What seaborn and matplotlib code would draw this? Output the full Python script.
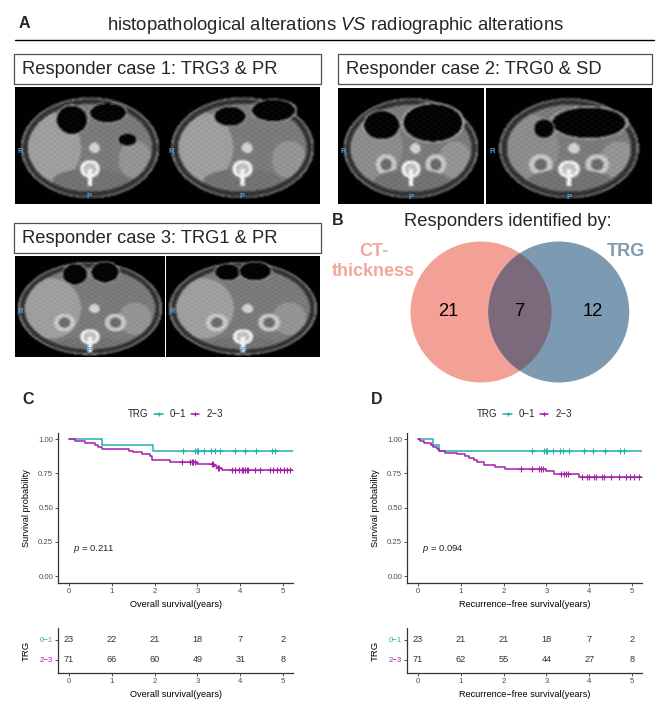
import numpy as np
import pandas as pd
import matplotlib
matplotlib.use("Agg")
import matplotlib.pyplot as plt
import seaborn as sns
from matplotlib.patches import Rectangle, Circle

# ---------------- data ----------------
title_main = "histopathological alterations $\\it{VS}$ radiographic alterations"
case_titles = ["Responder case 1: TRG3 & PR", "Responder case 2: TRG0 & SD",
               "Responder case 3: TRG1 & PR"]

venn_title = "Responders identified by:"
venn_sets = ["CT-", "thickness", "TRG"]
venn_counts = [21, 7, 12]          # CT only, both, TRG only

groups = ["0\u22121", "2\u22123"]
risk_years = [0, 1, 2, 3, 4, 5]

# Overall survival (panel C)
os_t_01 = [0, 0.76, 1.97, 5.23]
os_s_01 = [1.0, 0.957, 0.913, 0.913]
os_c_01 = [2.66, 2.94, 2.98, 3.02, 3.15, 3.31, 3.41, 3.53, 3.88, 4.10, 4.36, 4.74, 4.81]
os_t_23 = [0, 0.14, 0.37, 0.61, 0.68, 0.78, 1.39, 1.50, 1.70, 1.89, 1.93, 2.36, 2.98,
           3.38, 3.45, 3.57, 5.23]
os_s_23 = [1.0, 0.986, 0.972, 0.958, 0.944, 0.930, 0.916, 0.902, 0.888, 0.874, 0.845,
           0.831, 0.816, 0.803, 0.790, 0.776, 0.776]
os_c_23 = [2.63, 2.83, 2.87, 2.90, 2.94, 3.33, 3.37, 3.47, 3.51, 3.80, 3.88, 3.96, 4.03,
           4.07, 4.11, 4.15, 4.19, 4.35, 4.46, 4.70, 4.77, 4.85, 4.93, 5.01, 5.09, 5.16]
os_risk_01 = [23, 22, 21, 18, 7, 2]
os_risk_23 = [71, 66, 60, 49, 31, 8]
os_p = "0.211"

# Recurrence-free survival (panel D)
rfs_t_01 = [0, 0.34, 0.48, 5.23]
rfs_s_01 = [1.0, 0.957, 0.913, 0.913]
rfs_c_01 = [2.66, 2.94, 2.98, 3.02, 3.16, 3.32, 3.38, 3.53, 3.87, 4.09, 4.36, 4.72, 4.81]
rfs_t_23 = [0, 0.05, 0.15, 0.31, 0.35, 0.44, 0.49, 0.64, 0.91, 1.10, 1.18, 1.30, 1.37,
            1.53, 1.80, 2.04, 2.98, 3.17, 3.75, 5.23]
rfs_s_23 = [1.0, 0.986, 0.974, 0.957, 0.944, 0.926, 0.913, 0.900, 0.889, 0.875, 0.864,
            0.847, 0.832, 0.813, 0.798, 0.781, 0.763, 0.745, 0.720, 0.720]
rfs_c_23 = [2.40, 2.67, 2.82, 2.88, 2.93, 3.33, 3.40, 3.45, 3.50, 3.84, 3.95, 4.00,
            4.10, 4.15, 4.30, 4.35, 4.50, 4.70, 4.85, 4.95, 5.05, 5.15]
rfs_risk_01 = [23, 21, 21, 18, 7, 2]
rfs_risk_23 = [71, 62, 55, 44, 27, 8]
rfs_p = "0.094"

# ---------------- style ----------------
sns.set_theme(style="ticks")
plt.rcParams['font.family'] = ['Liberation Sans', 'DejaVu Sans']
plt.rcParams['mathtext.fontset'] = 'custom'
plt.rcParams['mathtext.rm'] = 'Liberation Sans'
plt.rcParams['mathtext.it'] = 'Liberation Sans:italic'
plt.rcParams['mathtext.bf'] = 'Liberation Sans:bold'

TEAL = "#22AFA8"
PURP = "#A41FAA"
GREY_TXT = "#4D4D4D"
SPINE = "#333333"

W, H = 669, 708
fig = plt.figure(figsize=(W / 100, H / 100), dpi=100)


def fr(x0, y0, x1, y1):
    return [x0 / W, 1 - y1 / H, (x1 - x0) / W, (y1 - y0) / H]


# overlay axes in pixel coordinates
ov = fig.add_axes([0, 0, 1, 1])
ov.set_xlim(0, W)
ov.set_ylim(H, 0)
ov.axis("off")

# ---------------- panel A ----------------
ov.text(24, 23.5, "A", fontsize=11.5, fontweight="bold", ha="center", va="center")
ov.text(335, 26, title_main, fontsize=13.3, ha="center", va="center")
ov.plot([15, 654], [40, 40], color="black", lw=1.0)

boxes = [(14, 54, 321, 84), (338, 54, 652, 84), (14, 223, 321, 253)]
for (x0, y0, x1, y1), t in zip(boxes, case_titles):
    ov.add_patch(Rectangle((x0, y0), x1 - x0, y1 - y0, fc="white", ec="#505050", lw=0.9))
    ov.text(x0 + 8, (y0 + y1) / 2 + 0.5, t, fontsize=13.2, ha="left", va="center")


def blur(a, k=2):
    out = a.copy()
    for axis in (0, 1):
        acc = np.zeros_like(out)
        for d in range(-k, k + 1):
            acc += np.roll(out, d, axis=axis)
        out = acc / (2 * k + 1)
    return out


def ct_slice(h, w, body=(0.46, 0.43), gas=(), kidneys=False, spine_y=0.70, liver=0.62):
    yy, xx = np.mgrid[0:h, 0:w]
    u = (xx + 0.5) / w
    v = (yy + 0.5) / h
    img = np.zeros((h, w))
    e = ((u - 0.5) / body[0]) ** 2 + ((v - 0.52) / body[1]) ** 2
    img[e < 1] = 0.55
    img[e < 0.95] = 0.2
    inner = ((u - 0.5) / (body[0] - 0.045)) ** 2 + ((v - 0.52) / (body[1] - 0.055)) ** 2
    img[inner < 1] = 0.48
    lv = ((u - 0.24) / 0.2) ** 2 + ((v - 0.52) / 0.3) ** 2
    img[(lv < 1) & (inner < 1)] = liver
    sp = ((u - 0.80) / 0.11) ** 2 + ((v - 0.62) / 0.16) ** 2
    img[(sp < 1) & (inner < 1)] = 0.58
    for cx, cy, rx, ry in gas:
        g = ((u - cx) / rx) ** 2 + ((v - cy) / ry) ** 2
        img[g < 1.2] = 0.62
        img[g < 1] = 0.02
    if kidneys:
        for cx in (0.33, 0.67):
            k = ((u - cx) / 0.07) ** 2 + ((v - 0.66) / 0.09) ** 2
            img[k < 1] = 0.78
            img[k < 0.3] = 0.42
    ao = ((u - 0.53) / 0.035) ** 2 + ((v - 0.52) / 0.045) ** 2
    img[ao < 1] = 0.82
    musc = (((u - 0.5) / 0.25) ** 2 + ((v - (spine_y + 0.1)) / 0.1) ** 2 < 1) & (inner < 1)
    img[musc] = 0.45
    vb = ((u - 0.5) / 0.065) ** 2 + ((v - spine_y) / 0.075) ** 2
    img[vb < 1] = 0.95
    img[vb < 0.45] = 0.75
    spn = (np.abs(u - 0.5) < 0.014) & (v > spine_y) & (v < spine_y + 0.15)
    img[spn] = 0.95
    img = blur(img, 1)
    img += 0.03 * np.sin(xx * 0.9) * np.cos(yy * 1.3)
    return np.clip(img, 0, 1)


ct_specs = [
    (fr(15, 87, 164, 204), dict(gas=[(0.38, 0.28, 0.1, 0.12), (0.62, 0.22, 0.12, 0.08),
                                     (0.75, 0.45, 0.06, 0.05)])),
    (fr(165, 87, 320, 204), dict(gas=[(0.42, 0.25, 0.1, 0.08), (0.7, 0.2, 0.14, 0.09)])),
    (fr(338, 88, 484, 204), dict(gas=[(0.3, 0.32, 0.12, 0.12), (0.65, 0.3, 0.2, 0.16)],
                                 kidneys=True, liver=0.55)),
    (fr(486, 88, 652, 204), dict(gas=[(0.62, 0.3, 0.22, 0.13), (0.35, 0.35, 0.06, 0.08)],
                                 kidneys=True, body=(0.42, 0.43), liver=0.55)),
    (fr(15, 256, 164, 357), dict(gas=[(0.4, 0.18, 0.08, 0.1), (0.6, 0.16, 0.09, 0.1)],
                                 kidneys=True, body=(0.48, 0.46), spine_y=0.8)),
    (fr(166, 256, 320, 357), dict(gas=[(0.4, 0.16, 0.08, 0.08), (0.58, 0.15, 0.1, 0.09)],
                                  kidneys=True, body=(0.48, 0.46), spine_y=0.8)),
]
for rect, kw in ct_specs:
    axi = fig.add_axes(rect)
    axi.imshow(ct_slice(110, 140, **kw), cmap="gray", vmin=0, vmax=1, aspect="auto",
               interpolation="bilinear")
    axi.text(0.02, 0.45, "R", transform=axi.transAxes, color="#4FA3E0", fontsize=5.5,
             fontweight="bold", ha="left", va="center")
    axi.text(0.5, 0.03, "P", transform=axi.transAxes, color="#4FA3E0", fontsize=5.5,
             fontweight="bold", ha="center", va="bottom")
    axi.set_xticks([])
    axi.set_yticks([])
    for s in axi.spines.values():
        s.set_visible(False)

# ---------------- panel B (Venn) ----------------
ov.text(338, 220.5, "B", fontsize=11.5, fontweight="bold", ha="center", va="center")
ov.text(508, 222, venn_title, fontsize=13.2, ha="center", va="center")
c_left = Circle((481, 312), 70.5, fc="#F3A097", ec="none")
c_right = Circle((558.8, 312), 70.5, fc="#7C9AB1", ec="none")
ov.add_patch(c_left)
ov.add_patch(c_right)
c_both = Circle((558.8, 312), 70.5, fc="#7A6A7B", ec="none")
ov.add_patch(c_both)
c_both.set_clip_path(Circle((481, 312), 70.5, transform=ov.transData))
ov.text(373.5, 252, venn_sets[0], fontsize=13, fontweight="bold", color="#F4A69B",
        ha="center", va="center")
ov.text(373.5, 272, venn_sets[1], fontsize=13, fontweight="bold", color="#F4A69B",
        ha="center", va="center")
ov.text(626, 252, venn_sets[2], fontsize=13, fontweight="bold", color="#7C9AB1",
        ha="center", va="center")
for xpos, n in zip([448, 520, 593], venn_counts):
    ov.text(xpos, 311, str(n), fontsize=13.2, ha="center", va="center", color="black")


# ---------------- panels C & D ----------------
def step_at(t, s, c):
    idx = np.searchsorted(np.asarray(t), np.asarray(c), side="right") - 1
    return np.asarray(s)[idx]


def style_axis(ax):
    sns.despine(ax=ax)
    for sp in ("left", "bottom"):
        ax.spines[sp].set_color(SPINE)
        ax.spines[sp].set_linewidth(0.9)
    ax.tick_params(length=2, width=0.6, colors=SPINE, labelsize=5.6,
                   labelcolor=GREY_TXT, pad=1.5)
    ax.grid(False)


def km_panel(x0, letter, t1, s1, c1, t2, s2, c2, r1, r2, pval, xlabel):
    left, right = x0, x0 + 235
    ax = fig.add_axes(fr(left, 433, right, 583))
    for t, s, c, col in [(t1, s1, c1, TEAL), (t2, s2, c2, PURP)]:
        df = pd.DataFrame({"t": t, "s": s})
        sns.lineplot(data=df, x="t", y="s", drawstyle="steps-post", color=col,
                     lw=1.1, estimator=None, sort=False, ax=ax)
        cdf = pd.DataFrame({"t": c, "s": step_at(t, s, c)})
        sns.scatterplot(data=cdf, x="t", y="s", marker="+", color=col, s=14,
                        linewidth=0.8, ax=ax, zorder=3)
    ax.set_xlim(-0.257, 5.23)
    ax.set_ylim(-0.051, 1.044)
    ax.set_xticks(risk_years)
    ax.set_yticks([0, 0.25, 0.5, 0.75, 1.0])
    ax.set_yticklabels(["0.00", "0.25", "0.50", "0.75", "1.00"])
    style_axis(ax)
    ax.set_xlabel(xlabel, fontsize=6.6, color="black")
    ax.set_ylabel("Survival probability", fontsize=6.6, color="black")
    ax.xaxis.set_label_coords(0.5, -0.113)
    ax.yaxis.set_label_coords(-0.115, 0.5)
    ax.text(0.09, 0.2, "$\\it{p}$ = " + pval, fontsize=6.8, ha="left", va="center",
            color="#222222")

    # risk table
    rt = fig.add_axes(fr(left, 628, right, 673))
    for yv, vals in [(2, r1), (1, r2)]:
        for xv, n in zip(risk_years, vals):
            rt.text(xv, yv, str(n), fontsize=6.6, ha="center", va="center", color="#333333")
    rt.set_xlim(-0.257, 5.23)
    rt.set_ylim(0.35, 2.6)
    rt.set_xticks(risk_years)
    rt.set_yticks([2, 1])
    rt.set_yticklabels(groups)
    style_axis(rt)
    for lab, col in zip(rt.get_yticklabels(), [TEAL, PURP]):
        lab.set_color(col)
    rt.set_xlabel(xlabel, fontsize=6.6, color="black")
    rt.set_ylabel("TRG", fontsize=6.8, color="black")
    rt.xaxis.set_label_coords(0.5, -0.38)
    rt.yaxis.set_label_coords(-0.115, 0.5)

    # legend (pixel coords)
    off = left - 58
    ov.text(28 + off, 400, letter, fontsize=11.5, fontweight="bold", ha="center",
            va="center")
    ov.text(137.7 + off, 414, "TRG", fontsize=7, ha="center", va="center")
    for (a, b), col, lab, lx in [((154.3, 162.7), TEAL, groups[0], 177.7),
                                 ((191.0, 199.3), PURP, groups[1], 215.2)]:
        ov.plot([a + off, b + off], [414, 414], color=col, lw=1.1)
        ov.plot([(a + b) / 2 + off], [414], marker="+", color=col, ms=3.5, mew=0.8)
        ov.text(lx + off, 414, lab, fontsize=7, ha="center", va="center")


km_panel(58, "C", os_t_01, os_s_01, os_c_01, os_t_23, os_s_23, os_c_23,
         os_risk_01, os_risk_23, os_p, "Overall survival(years)")
km_panel(407, "D", rfs_t_01, rfs_s_01, rfs_c_01, rfs_t_23, rfs_s_23, rfs_c_23,
         rfs_risk_01, rfs_risk_23, rfs_p, "Recurrence\u2212free survival(years)")

fig.savefig("out.png", dpi=100)
